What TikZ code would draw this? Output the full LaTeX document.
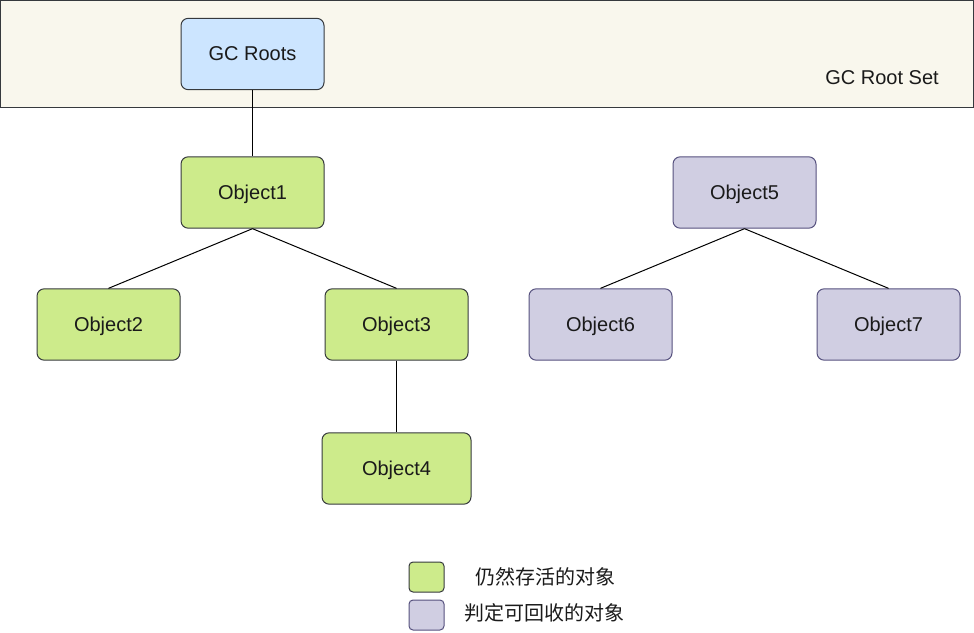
\documentclass[tikz,border=0pt]{standalone}
\usepackage{fontspec}
\setmainfont{Liberation Sans}
\newfontfamily\cjk{Noto Sans CJK SC}
\usetikzlibrary{positioning}
\definecolor{setfill}{HTML}{F9F7ED}
\definecolor{rootfill}{HTML}{CCE5FF}
\definecolor{livefill}{HTML}{CDEB8B}
\definecolor{deadfill}{HTML}{D0CEE2}
\definecolor{darkline}{HTML}{36393D}
\definecolor{deadline}{HTML}{56517E}
\definecolor{txt}{HTML}{1A1A1A}

\begin{document}
\begin{tikzpicture}[x=0.75pt, y=-0.75pt, semithick, line width=0.75pt,
font=\fontsize{15pt}{18pt}\selectfont, text=txt,
obj/.style = { rectangle, rounded corners=5.4pt, draw, inner sep=0pt, text height=13.6pt, text depth=3.2pt, minimum width=107.25pt, minimum height=53.5pt},
obj_root/.style = { obj, fill=rootfill, draw=darkline },
obj_live/.style = { obj, fill=livefill, draw=darkline },
obj_dead/.style = { obj, fill=deadfill, draw=deadline },
ref/.style = { color = black }]
\useasboundingbox (0,0) rectangle (974,632);
\draw[fill=setfill, draw=darkline] (0.5,0.5) rectangle (973,107.5);
\node (setlabel) at (882,77.5) {GC Root Set};
\node[obj_root] (roots) at (252.5,54) {GC Roots};
\node[obj_live] (obj1) at (252.5,192.5) {Object1};
\node[obj_live] (obj2) at (108.5,324.5) {Object2};
\node[obj_live] (obj3) at (396.5,324.5) {Object3};
\node[obj_live, minimum width=111.75pt] (obj4) at (396.5,468.5) {Object4};
\node[obj_dead] (obj5) at (744.5,192.5) {Object5};
\node[obj_dead] (obj6) at (600.5,324.5) {Object6};
\node[obj_dead] (obj7) at (888.5,324.5) {Object7};
\path[ref](roots) edge (obj1);
\path[ref](obj1.south) edge (obj2.north);
\path[ref](obj1.south) edge (obj3.north);
\path[ref](obj3) edge (obj4);
\path[ref](obj5.south) edge (obj6.north);
\path[ref](obj5.south) edge (obj7.north);
% legend
\node[obj_live, minimum width=26.25pt, minimum height=22.5pt, rounded corners=3pt] (keylive) at (426.5,577) {};
\node[obj_dead, minimum width=26.25pt, minimum height=22.5pt, rounded corners=3pt] (keydead) at (426.5,615) {};
\node[anchor=west, inner sep=0pt] (livetext) at (475,577) {\cjk 仍然存活的对象};
\node[anchor=west, inner sep=0pt] (deadtext) at (464,613) {\cjk 判定可回收的对象};
\end{tikzpicture}
\end{document}
